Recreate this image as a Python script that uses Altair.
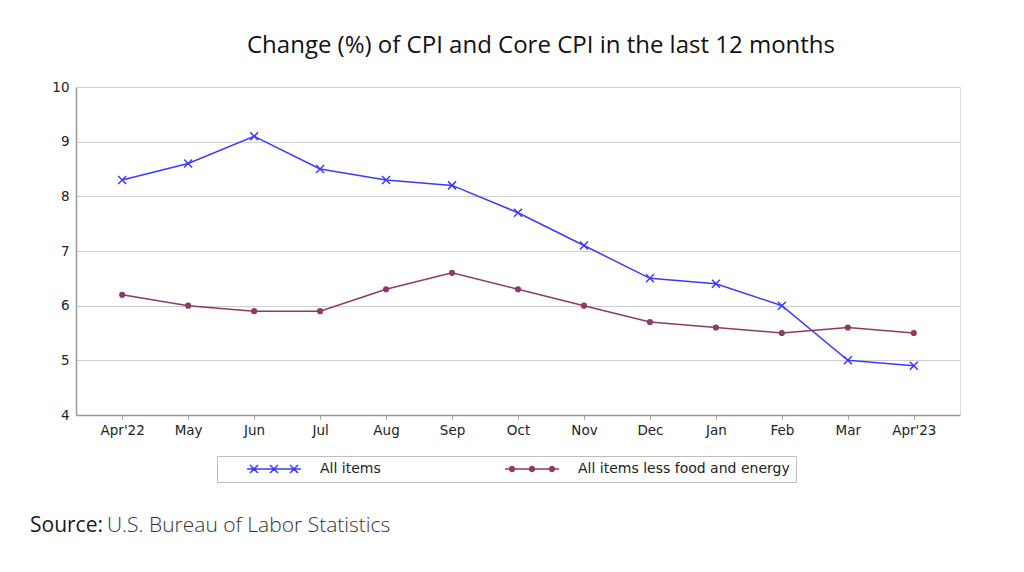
import math
import altair as alt
import pandas as pd

months = ["Apr'22", "May", "Jun", "Jul", "Aug", "Sep", "Oct", "Nov", "Dec", "Jan", "Feb", "Mar", "Apr'23"]
all_items = [8.3, 8.6, 9.1, 8.5, 8.3, 8.2, 7.7, 7.1, 6.5, 6.4, 6.0, 5.0, 4.9]
core = [6.2, 6.0, 5.9, 5.9, 6.3, 6.6, 6.3, 6.0, 5.7, 5.6, 5.5, 5.6, 5.5]
series_names = ["All items", "All items less food and energy"]
y_ticks = [4, 5, 6, 7, 8, 9, 10]
title_text = "Change (%) of CPI and Core CPI in the last 12 months"
source_label = "Source:"
source_text = "U.S. Bureau of Labor Statistics"

BLUE = "#3a3aff"
PURPLE = "#8e3a64"
AXIS_GRAY = "#9a9a9a"

df = pd.DataFrame({
    "month": months * 2,
    "value": all_items + core,
    "series": [series_names[0]] * len(months) + [series_names[1]] * len(months),
})


# ---- legend symbol paths (pixel units, symbolSize=4 -> 1 unit = 1px) ----
def seg_rect(p, q, h):
    dx, dy = q[0] - p[0], q[1] - p[1]
    L = math.hypot(dx, dy)
    nx, ny = -dy / L * h, dx / L * h
    pts = [(p[0] + nx, p[1] + ny), (q[0] + nx, q[1] + ny), (q[0] - nx, q[1] - ny), (p[0] - nx, p[1] - ny)]
    return "M" + "L".join(f"{x:.2f},{y:.2f}" for x, y in pts) + "Z"


def circle_poly(cx, r, n=16):
    pts = []
    for i in range(n):
        t = -2 * math.pi * i / n
        pts.append((cx + r * math.cos(t), r * math.sin(t)))
    return "M" + "L".join(f"{x:.2f},{y:.2f}" for x, y in pts) + "Z"


line_path = seg_rect((-27, 0), (27, 0), 0.75)
x_marks = "".join(
    seg_rect((c - 4, -4), (c + 4, 4), 0.75) + seg_rect((c - 4, 4), (c + 4, -4), 0.75)
    for c in (-20, 0, 20)
)
dot_marks = "".join(circle_poly(c, 3.2) for c in (-20, 0, 20))
legend_shapes = [line_path + x_marks, line_path + dot_marks]

cross_shape = "M-1,-1L1,1M1,-1L-1,1"

x_enc = alt.X(
    "month:N",
    sort=months,
    scale=alt.Scale(type="point", padding=0.7),
    axis=alt.Axis(
        title=None, labelAngle=0, labelFont="DejaVu Sans", labelFontSize=13.5,
        labelColor="#222", ticks=True, tickSize=4, tickColor=AXIS_GRAY,
        domainColor=AXIS_GRAY, domainWidth=1.5, grid=False, labelPadding=4,
    ),
)
y_enc = alt.Y(
    "value:Q",
    scale=alt.Scale(domain=[4, 10], nice=False, zero=False),
    axis=alt.Axis(
        title=None, values=y_ticks, labelFont="DejaVu Sans", labelFontSize=13.5,
        labelColor="#222", ticks=False, domainColor=AXIS_GRAY, domainWidth=1.5,
        grid=True, gridColor="#cfcfcf", gridWidth=1.2, labelPadding=7,
    ),
)

base = alt.Chart(df).encode(x=x_enc, y=y_enc)

blue_line = base.transform_filter(alt.datum.series == series_names[0]).mark_line(
    color=BLUE, strokeWidth=1.5)
blue_pts = base.transform_filter(alt.datum.series == series_names[0]).mark_point(
    shape=cross_shape, size=64, color=BLUE, filled=False, strokeWidth=1.5, opacity=1)
core_line = base.transform_filter(alt.datum.series == series_names[1]).mark_line(
    color=PURPLE, strokeWidth=1.5)
core_pts = base.transform_filter(alt.datum.series == series_names[1]).mark_circle(
    size=38, color=PURPLE, opacity=1)

legend = alt.Legend(
    title=None, orient="none", legendX=141, legendY=369, direction="horizontal",
    strokeColor="#bdbdbd", fillColor="white", padding=6, symbolSize=4,
    symbolOffset=44, labelOffset=39, columnPadding=100, labelLimit=400,
    labelFont="DejaVu Sans", labelFontSize=14, labelColor="#222",
)
legend_layer = base.transform_filter("false").mark_point(filled=True, size=4, opacity=1).encode(
    color=alt.Color("series:N", scale=alt.Scale(domain=series_names, range=[BLUE, PURPLE]), legend=legend),
    shape=alt.Shape("series:N", scale=alt.Scale(domain=series_names, range=legend_shapes), legend=legend),
)

src_df = pd.DataFrame({"a": [source_label], "b": [source_text]})
src1 = alt.Chart(src_df).mark_text(
    align="left", baseline="alphabetic", font="Open Sans", fontSize=21,
    fontWeight=500, color="#1a1a1a").encode(x=alt.value(-46), y=alt.value(445), text="a:N")
src2 = alt.Chart(src_df).mark_text(
    align="left", baseline="alphabetic", font="Open Sans", fontSize=21,
    fontWeight=300, color="#333").encode(x=alt.value(31), y=alt.value(445), text="b:N")

chart = alt.layer(blue_line, core_line, blue_pts, core_pts, legend_layer, src1, src2).properties(
    width=884, height=328,
    title=alt.TitleParams(title_text, font="Open Sans", fontSize=24, fontWeight="normal",
                          color="#111", anchor="middle", dx=23, offset=22),
    autosize="none",
    padding={"left": 68, "top": 79, "right": 56, "bottom": 149},
).configure_view(stroke=AXIS_GRAY, strokeWidth=1.5).configure(background="white")

chart.save("out.html", embed_options={"renderer": "svg", "actions": False})
